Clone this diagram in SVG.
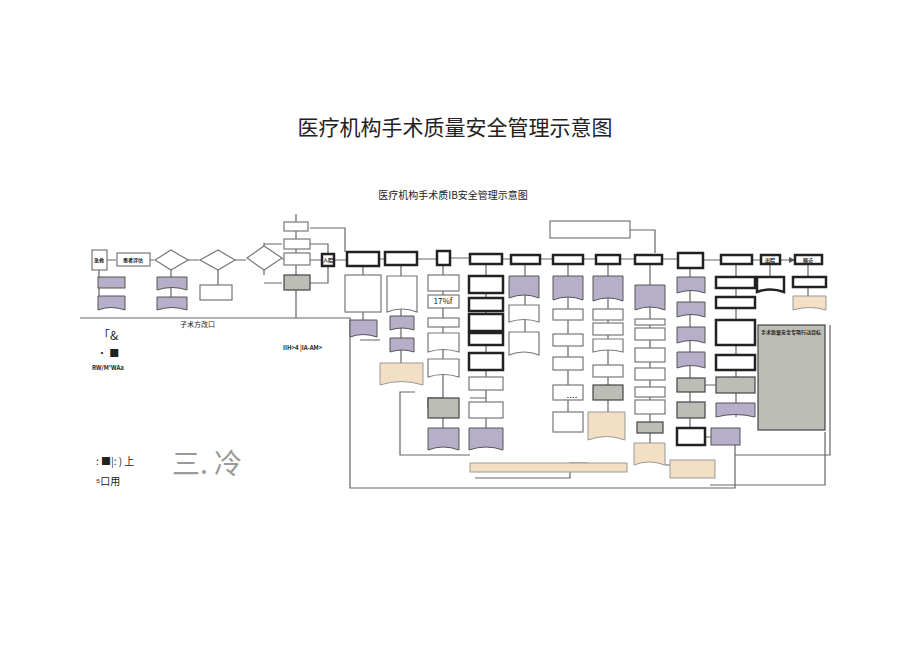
<svg xmlns="http://www.w3.org/2000/svg" width="920" height="651" viewBox="0 0 920 651">
<defs>
<style>
text{font-family:"Noto Sans CJK SC","Liberation Sans",sans-serif;fill:#222}
.n{fill:#fff;stroke:#777;stroke-width:1.2}
.k{fill:#fff;stroke:#222;stroke-width:2.5}
.p{fill:#b7aec9;stroke:#555;stroke-width:1}
.g{fill:#bcbdb5;stroke:#444;stroke-width:1.2}
.c{fill:#f2dfc4;stroke:#999;stroke-width:1}
.l{stroke:#666;stroke-width:1.2;fill:none}
.s{font-size:5px;text-anchor:middle;font-weight:bold}
</style>
<marker id="a" viewBox="0 0 6 6" refX="5" refY="3" markerWidth="5" markerHeight="5" orient="auto"><path d="M0,0L6,3L0,6z" fill="#555"/></marker>
</defs>
<rect width="920" height="651" fill="#fff"/>
<text x="455" y="135" font-size="21" text-anchor="middle" font-family="Noto Sans CJK SC,serif">医疗机构手术质量安全管理示意图</text>
<text x="453" y="199" font-size="10" text-anchor="middle">医疗机构手术质IB安全管理示意图</text>
<g id="connectors">
<path class="l" marker-end="url(#a)" d="M107,260H116M150,260H154M188,260H199M235,260H246M282,259H290M310,260H321M334,260H346M379,259H384M417,259H436M450,258H469M502,259H510M540,259H552M583,259H595M620,259H634M662,259H677M703,260H720M752,260H760M780,260H794"/>
<path class="l" d="M264,243V275M264,244H282M264,283H282M310,244H328V253M310,283H328V266M296,232V318M296,214V318M310,228H345V252M590,230H655V253"/>
<path class="l" d="M99,270V296M171,270V297M218,270V285M363,266V320M401,265V363M443,265V428M486,264V428M525,264V332M568,264V432M608,264V412M650,264V443M690,268V428M736,264V417M770,264V277M808,264V296"/>
<path class="l" d="M80,318H350V488H735V430M350,318V460M380,340H360M415,392H400V455H470M588,463H570V478H475M716,385H705M740,437H705M665,465H690M735,455H830V325M825,432V485H710"/>
<path class="l" d="M443,398H428V408M486,398H470"/>
</g>
<g id="n1"><rect class="n" x="92" y="250" width="15" height="20"/><text class="s" x="99" y="262">急救</text></g>
<g id="n2"><rect class="n" x="117" y="253" width="33" height="13"/><text class="s" x="133" y="262">患者评估</text></g>
<g id="d1"><polygon class="n" points="155,260 171,250 188,260 171,270"/></g>
<g id="d2"><polygon class="n" points="200,260 218,250 235,260 218,270"/></g>
<g id="d3"><polygon class="n" points="247,258 264,246 282,258 264,270"/></g>
<g id="c2">
<rect class="n" x="284" y="222" width="24" height="9"/>
<rect class="n" x="284" y="239" width="26" height="10"/>
<rect class="n" x="284" y="253" width="26" height="12"/>
<rect class="g" x="284" y="275" width="26" height="15"/>
</g>
<g id="n3"><rect class="k" x="322" y="254" width="12" height="12"/><text class="s" x="328" y="262">入院</text></g>
<g id="top"><rect class="k" x="347" y="252" width="32" height="14"/><rect class="k" x="385" y="252" width="32" height="13"/><rect class="k" x="437" y="251" width="13" height="14"/><rect class="k" x="470" y="254" width="32" height="10"/><rect class="k" x="511" y="255" width="29" height="9"/><rect class="k" x="553" y="255" width="30" height="9"/><rect class="k" x="596" y="255" width="24" height="9"/><rect class="k" x="635" y="255" width="27" height="9"/><rect class="k" x="678" y="253" width="25" height="15"/><rect class="k" x="721" y="255" width="31" height="9"/><rect class="k" x="761" y="255" width="19" height="9"/><text class="s" x="770" y="262">出院</text><rect class="k" x="795" y="255" width="27" height="9"/><text class="s" x="808" y="262">随访</text><rect class="n" x="550" y="221" width="80" height="17"/></g>
<g id="col1"><rect class="p" x="98" y="277" width="27" height="11"/><path class="p" d="M98,296H125V310Q111,305 98,310Z"/>
<path class="p" d="M157,277H187V290Q172,285 157,290Z"/><path class="p" d="M157,297H187V310Q172,305 157,310Z"/><rect class="n" x="200" y="285" width="32" height="15"/></g>
<g id="col4"><rect class="n" x="345" y="275" width="36" height="37"/><path class="p" d="M350,320H377V337Q363,332 350,337Z"/>
<path class="n" d="M387,276H417V312Q402,306 387,312Z"/><path class="p" d="M390,316H414V330Q402,326 390,330Z"/><path class="p" d="M390,338H414V352Q402,348 390,352Z"/><path class="c" d="M380,363H423V385Q401,378 380,385Z"/></g>
<g id="col6"><rect class="n" x="428" y="275" width="31" height="16"/><rect class="n" x="428" y="295" width="31" height="13"/><text x="443" y="304" font-size="8" text-anchor="middle">17%f</text><rect class="n" x="428" y="318" width="31" height="9"/><path class="n" d="M428,333H459V352Q443,347 428,352Z"/><path class="n" d="M428,359H459V377Q443,372 428,377Z"/><rect class="g" x="428" y="398" width="31" height="20"/><path class="p" d="M428,428H459V450Q443,444 428,450Z"/></g>
<g id="col7"><rect class="k" x="469" y="276" width="34" height="17"/><rect class="k" x="469" y="298" width="34" height="13"/><rect class="k" x="469" y="314" width="34" height="17"/><rect class="k" x="469" y="333" width="34" height="12"/><rect class="k" x="469" y="353" width="34" height="17"/><rect class="n" x="469" y="377" width="34" height="13"/><rect class="n" x="469" y="402" width="34" height="16"/><path class="p" d="M469,428H503V450Q486,444 469,450Z"/></g>
<g id="col8"><path class="p" d="M509,276H539V298Q524,292 509,298Z"/><path class="n" d="M509,305H539V322Q524,317 509,322Z"/><path class="n" d="M509,332H539V355Q524,349 509,355Z"/></g>
<g id="col9"><path class="p" d="M553,276H583V300Q568,294 553,300Z"/><rect class="n" x="553" y="309" width="30" height="11"/><rect class="n" x="553" y="334" width="30" height="12"/><rect class="n" x="553" y="357" width="30" height="13"/><rect class="n" x="553" y="385" width="30" height="15"/><text x="572" y="398" font-size="10" text-anchor="middle">....</text><rect class="n" x="553" y="412" width="30" height="20"/></g>
<g id="col10"><path class="p" d="M593,276H623V301Q608,295 593,301Z"/><rect class="n" x="593" y="309" width="30" height="11"/><rect class="n" x="593" y="323" width="30" height="12"/><path class="n" d="M593,339H623V352Q608,348 593,352Z"/><rect class="n" x="593" y="365" width="30" height="12"/><rect class="g" x="593" y="385" width="30" height="15"/><path class="c" d="M588,412H625V440Q606,433 588,440Z"/></g>
<g id="col11"><path class="p" d="M635,285H665V310Q650,304 635,310Z"/><rect class="n" x="635" y="319" width="30" height="6"/><rect class="n" x="635" y="328" width="30" height="12"/><rect class="n" x="635" y="348" width="30" height="14"/><rect class="n" x="635" y="368" width="30" height="12"/><rect class="n" x="635" y="387" width="30" height="10"/><rect class="n" x="635" y="400" width="30" height="14"/><rect class="g" x="637" y="422" width="26" height="11"/><path class="c" d="M634,443H665V465Q649,459 634,465Z"/></g>
<g id="col12"><path class="p" d="M677,277H705V293Q691,288 677,293Z"/><path class="p" d="M677,302H705V317Q691,312 677,317Z"/><path class="p" d="M677,327H705V343Q691,338 677,343Z"/><path class="p" d="M677,352H705V368Q691,363 677,368Z"/><rect class="g" x="677" y="378" width="28" height="14" stroke-width="2"/><rect class="g" x="677" y="402" width="28" height="16"/><rect class="k" x="677" y="428" width="28" height="17"/><rect class="p" x="711" y="428" width="29" height="17"/></g>
<g id="col13"><rect class="k" x="716" y="277" width="39" height="11"/><rect class="k" x="716" y="297" width="39" height="11"/><rect class="k" x="716" y="320" width="39" height="25"/><rect class="k" x="716" y="355" width="39" height="15"/><rect class="g" x="716" y="377" width="39" height="16"/><path class="p" d="M716,403H755V417Q735,412 716,417Z"/></g>
<g id="col14"><path class="k" d="M757,277H784V292Q770,287 757,292Z"/><rect class="k" x="793" y="277" width="33" height="10"/><path class="c" d="M793,296H826V310Q809,305 793,310Z"/></g>
<g id="goal"><rect class="g" x="758" y="325" width="67" height="105" stroke-width="2"/><text x="791" y="334" font-size="5" text-anchor="middle" font-weight="bold">手术质量安全专项行动目标</text></g>
<g id="bottom"><rect class="c" x="470" y="463" width="157" height="9"/><rect class="c" x="670" y="460" width="45" height="18"/></g>
<g id="misc">
<text x="180" y="327" font-size="7">子术方改口</text>
<text x="98" y="340" font-size="12">「&amp;</text>
<text x="97" y="357" font-size="10">· ■</text>
<text x="92" y="370" font-size="6" font-weight="bold">RW/M'WAa</text>
<text x="283" y="350" font-size="6" font-weight="bold">IIH&gt;4 |IA-AM&gt;</text>
<text x="96" y="465" font-size="10">: ■|: ) 上</text>
<text x="96" y="485" font-size="10">⁵口用</text>
<text x="172" y="474" font-size="28" fill="#999" style="fill:#999">三. 冷</text>
</g>
</svg>
